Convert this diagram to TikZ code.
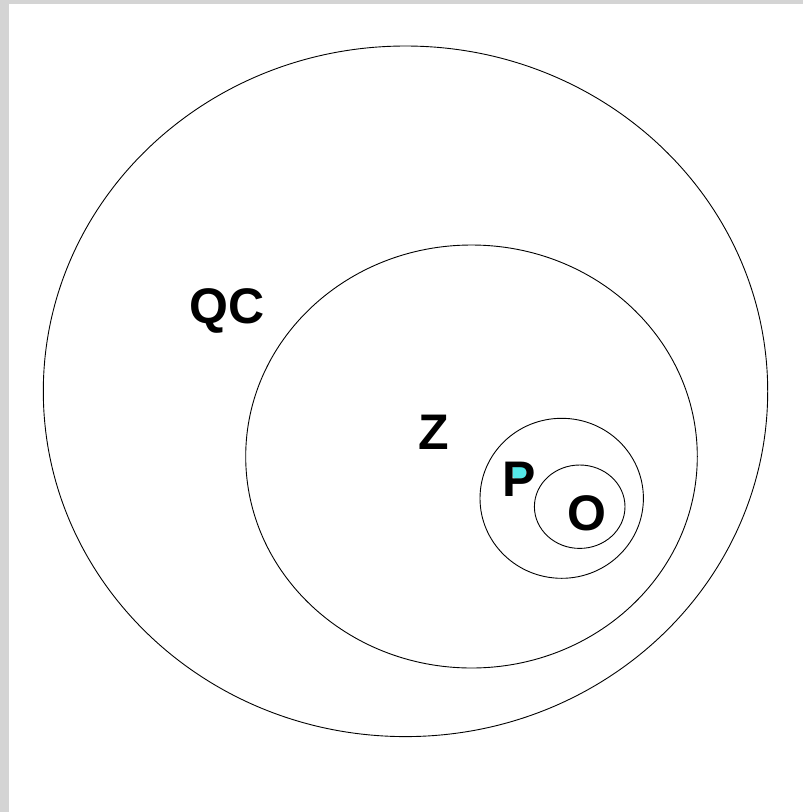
\documentclass[tikz,border=0pt]{standalone}
\usepackage{fontspec}
\setmainfont{Liberation Sans}
\begin{document}
\begin{tikzpicture}[x=1pt,y=-1pt,
  ring/.style={draw=black,line width=0.9pt},
  lbl/.style={font=\fontsize{50}{50}\selectfont\bfseries,inner sep=0pt,anchor=base,text=black}]
\definecolor{framegray}{RGB}{212,212,212}
\definecolor{pcyan}{RGB}{85,232,232}
\useasboundingbox (0,0) rectangle (803,812);
\fill[white] (0,0) rectangle (803,812);
\fill[framegray] (0,0) rectangle (803,4);
\fill[framegray] (0,0) rectangle (9,812);
% circles
\draw[ring] (405.5,391.3) ellipse [x radius=362.2, y radius=345.3];
\draw[ring] (471.5,456.5) ellipse [x radius=225.8, y radius=211.5];
\draw[ring] (561.7,498.3) ellipse [x radius=81.7, y radius=80];
\draw[ring] (579.7,506.7) ellipse [x radius=45.3, y radius=41.7];
% cyan counter of P
\fill[pcyan,rounded corners=3pt] (512.5,465.5) rectangle (526,478.5);
% labels
\node[lbl] (qc) at (226.7,323) {QC};
\node[lbl] (z) at (434,449.3) {Z};
\node[lbl] (p) at (519,496) {P};
\node[lbl] (o) at (586.7,530.3) {O};
\end{tikzpicture}
\end{document}
